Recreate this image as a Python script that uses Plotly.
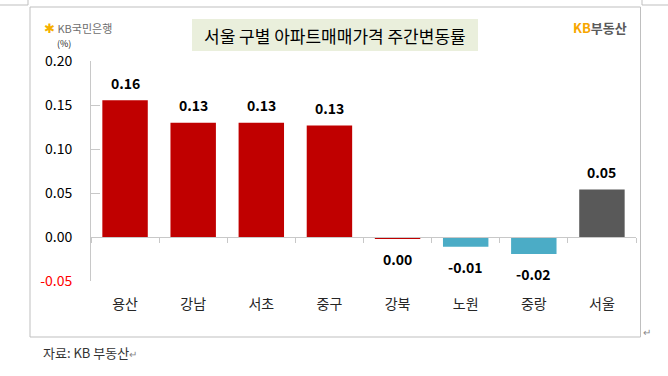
import plotly.graph_objects as go

categories = ["용산", "강남", "서초", "중구", "강북", "노원", "중랑", "서울"]
values = [0.1555, 0.1297, 0.1297, 0.1268, -0.002, -0.011, -0.0193, 0.0541]
value_labels = ["0.16", "0.13", "0.13", "0.13", "0.00", "-0.01", "-0.02", "0.05"]
bar_colors = ["#C00000", "#C00000", "#C00000", "#C00000", "#C00000", "#4BACC6", "#4BACC6", "#595959"]
y_range = [-0.05, 0.20]
y_ticks = [0.20, 0.15, 0.10, 0.05, 0.00, -0.05]
y_tick_labels = ["0.20", "0.15", "0.10", "0.05", "0.00", '<span style="color:#FF0000">-0.05</span>']

W, H = 668, 376
ML, MR, MT, MB = 91, 668 - 636, 61, 376 - 281
FONT = "Noto Sans CJK KR"


def px(x):
    return (x - ML) / (W - ML - MR)


def py(y):
    return (H - MB - y) / (H - MT - MB)


fig = go.Figure()
fig.add_trace(go.Bar(
    x=categories, y=values, marker=dict(color=bar_colors, line=dict(width=0)),
    hoverinfo="skip", showlegend=False,
))
# helper invisible trace for the zero-line axis
fig.add_trace(go.Scatter(
    x=categories, y=[0] * len(categories), xaxis="x2", mode="markers",
    marker=dict(opacity=0), hoverinfo="skip", showlegend=False,
))

for c, v, t in zip(categories, values, value_labels):
    fig.add_annotation(
        x=c, y=v, xref="x", yref="y", text=t, showarrow=False,
        yanchor="middle", yshift=17.5 if v > 0 else -20,
        font=dict(family=FONT, size=14, color="#000000", weight="bold"),
    )

# title box
fig.add_shape(type="rect", xref="paper", yref="paper",
              x0=px(192), x1=px(478), y0=py(51), y1=py(19),
              fillcolor="#EAEFDC", line=dict(width=0), layer="below")
fig.add_annotation(xref="paper", yref="paper", x=px(335), y=py(35.5),
                   text="서울 구별 아파트매매가격 주간변동률", showarrow=False,
                   xanchor="center", yanchor="middle",
                   font=dict(family=FONT, size=17, color="#000000"))
# frame
fig.add_shape(type="rect", xref="paper", yref="paper",
              x0=px(30), x1=px(640.5), y0=py(337), y1=py(7),
              line=dict(color="#BFBFBF", width=1), layer="below")
# corner marks
fig.add_shape(type="path", xref="paper", yref="paper",
              path=f"M {px(0)} {py(5)} L {px(28)} {py(5)} L {px(28)} {py(0)}",
              line=dict(color="#BFBFBF", width=1))
fig.add_shape(type="path", xref="paper", yref="paper",
              path=f"M {px(642)} {py(0)} L {px(642)} {py(5)} L {px(668)} {py(5)}",
              line=dict(color="#BFBFBF", width=1))

# logos
fig.add_annotation(xref="paper", yref="paper", x=px(42), y=py(27.5),
                   text='<span style="color:#F5B000;font-size:13px">✱</span> <span style="color:#6E6E6E">KB국민은행</span>',
                   showarrow=False, xanchor="left", yanchor="middle",
                   font=dict(family=FONT, size=11))
fig.add_annotation(xref="paper", yref="paper", x=px(629), y=py(27),
                   text='<b><span style="color:#F7A600">KB</span><span style="color:#5A5A5A">부동산</span></b>',
                   showarrow=False, xanchor="right", yanchor="middle",
                   font=dict(family=FONT, size=13))
fig.add_annotation(xref="paper", yref="paper", x=px(63.5), y=py(44),
                   text="(%)", showarrow=False, xanchor="center", yanchor="middle",
                   font=dict(family=FONT, size=9, color="#222222"))
fig.add_annotation(xref="paper", yref="paper", x=px(41), y=py(352),
                   text='자료: KB 부동산<span style="color:#888888;font-size:10px">↵</span>',
                   showarrow=False, xanchor="left", yanchor="middle",
                   font=dict(family=FONT, size=13, color="#333333"))
fig.add_annotation(xref="paper", yref="paper", x=px(641), y=py(331),
                   text="↵", showarrow=False, xanchor="left", yanchor="middle",
                   font=dict(family=FONT, size=10, color="#888888"))

fig.update_layout(
    width=W, height=H,
    margin=dict(l=ML, r=MR, t=MT, b=MB, pad=0),
    paper_bgcolor="white", plot_bgcolor="white",
    bargap=0.333,
    font=dict(family=FONT),
    xaxis=dict(
        type="category", categoryorder="array", categoryarray=categories,
        showline=False, ticks="", showgrid=False, zeroline=False,
        tickfont=dict(family=FONT, size=14, color="#262626"),
        ticklabelstandoff=13,
    ),
    xaxis2=dict(
        type="category", categoryorder="array", categoryarray=categories,
        overlaying="x", matches="x", anchor="free",
        position=(0 - y_range[0]) / (y_range[1] - y_range[0]), side="bottom",
        showline=True, linecolor="#C8C8C8", linewidth=1,
        ticks="outside", tickson="boundaries", ticklen=5, tickcolor="#C8C8C8",
        showticklabels=False, showgrid=False, zeroline=False,
    ),
    yaxis=dict(
        range=y_range, tickvals=y_ticks, ticktext=y_tick_labels,
        showline=True, linecolor="#C8C8C8", linewidth=1,
        ticks="inside", ticklen=9, tickcolor="#C8C8C8",
        showgrid=False, zeroline=False,
        tickfont=dict(family=FONT, size=14, color="#000000"),
        ticklabelstandoff=15,
    ),
)

fig.write_html("out.html", config={"displayModeBar": False},
               post_script="document.body.style.margin='0';")
